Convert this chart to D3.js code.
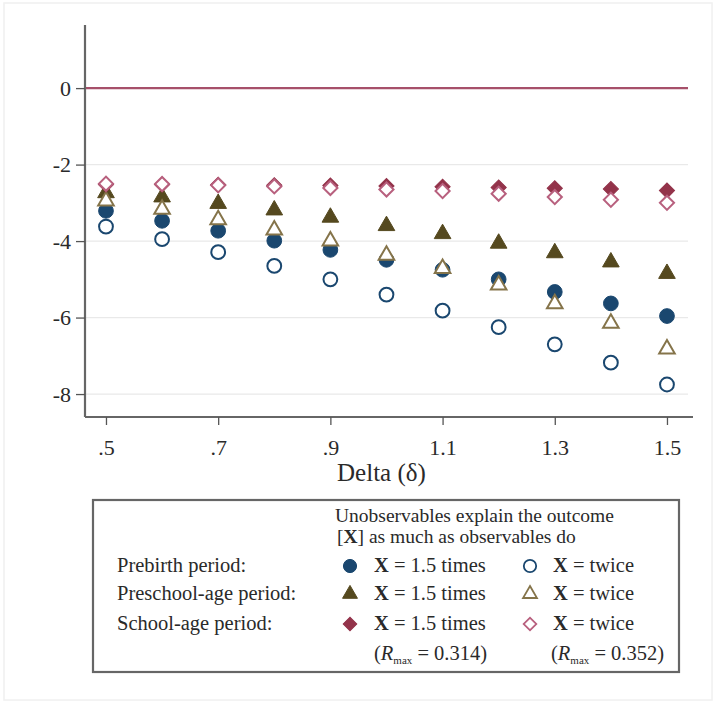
<!DOCTYPE html>
<html><head><meta charset="utf-8">
<script src="https://cdn.jsdelivr.net/npm/d3@7"></script>
<style>
body{margin:0;background:#fff;}
svg{display:block;}
text{font-family:"Liberation Serif","Times New Roman",serif;fill:#2a2a2a;}
</style></head>
<body>
<script>
// ---- data ----
const deltas = [0.5,0.6,0.7,0.8,0.9,1.0,1.1,1.2,1.3,1.4,1.5];
const prebirth15   = [-3.21,-3.47,-3.73,-3.99,-4.23,-4.49,-4.75,-5.00,-5.33,-5.63,-5.96];
const prebirthTwice= [-3.62,-3.95,-4.29,-4.65,-5.00,-5.40,-5.82,-6.25,-6.70,-7.18,-7.75];
const preschool15  = [-2.74,-2.85,-3.02,-3.19,-3.38,-3.60,-3.81,-4.06,-4.31,-4.55,-4.85];
const preschoolTwice=[-2.95,-3.17,-3.44,-3.71,-4.00,-4.37,-4.72,-5.15,-5.64,-6.15,-6.82];
const school15     = [-2.52,-2.52,-2.53,-2.54,-2.55,-2.56,-2.58,-2.60,-2.62,-2.64,-2.68];
const schoolTwice  = [-2.50,-2.51,-2.54,-2.57,-2.61,-2.65,-2.69,-2.76,-2.85,-2.92,-3.00];
const xTicks = [0.5,0.7,0.9,1.1,1.3,1.5];
const xTickLabels = [".5",".7",".9","1.1","1.3","1.5"];
const yTicks = [0,-2,-4,-6,-8];
const yTickLabels = ["0","-2","-4","-6","-8"];
const xTitle = "Delta (δ)";
const rowLabels = ["Prebirth period:","Preschool-age period:","School-age period:"];
const rmaxValues = ["0.314","0.352"];

const W=720,H=704;
const svg=d3.select("body").append("svg").attr("width",W).attr("height",H);
svg.append("rect").attr("width",W).attr("height",H).attr("fill","#fff");
svg.append("rect").attr("x",4).attr("y",3).attr("width",708).attr("height",697)
  .attr("fill","none").attr("stroke","#f0f0f0").attr("stroke-width",1.5);

const x=d3.scaleLinear().domain([0.4626,1.5464]).range([85,693]);
const y=d3.scaleLinear().domain([-8.6,1.65]).range([417,25]);

const cNavy="#1a476f", cOlive="#55491f", cOliveL="#85744a", cMaroon="#93334a", cMaroonL="#b8607e";

// gridlines
svg.append("g").selectAll("line").data(yTicks.filter(d=>d!==0)).join("line")
  .attr("x1",86).attr("x2",688).attr("y1",d=>y(d)).attr("y2",d=>y(d))
  .attr("stroke","#e9e9e9").attr("stroke-width",1.3);

// zero line
svg.append("line").attr("x1",85).attr("x2",688).attr("y1",y(0)).attr("y2",y(0))
  .attr("stroke","#a6506a").attr("stroke-width",2.4);

// axes
const yAxis=d3.axisLeft(y).tickValues(yTicks).tickFormat((d,i)=>yTickLabels[i]).tickSize(9).tickPadding(5);
const gy=svg.append("g").attr("transform","translate(85,0)").call(yAxis);
const xAxis=d3.axisBottom(x).tickValues(xTicks).tickFormat((d,i)=>xTickLabels[i]).tickSize(8).tickPadding(14);
const gx=svg.append("g").attr("transform","translate(0,417)").call(xAxis);
[gx,gy].forEach(g=>{
  g.select(".domain").attr("stroke","#666").attr("stroke-width",2.2);
  g.selectAll(".tick line").attr("stroke","#555").attr("stroke-width",1.3);
  g.selectAll(".tick text").style("font-family","'Liberation Serif',serif").style("font-size","22px").attr("fill","#2a2a2a");
});
gx.select(".domain").attr("d","M85,0H693");
gy.select(".domain").attr("d","M0,25V417");

svg.append("text").attr("x",x(1.0)-5).attr("y",481).attr("text-anchor","middle")
  .style("font-size","25px").text(xTitle);

// markers
const series=[
  {vals:prebirth15, type:d3.symbolCircle, fill:cNavy, stroke:cNavy, size:170},
  {vals:prebirthTwice, type:d3.symbolCircle, fill:"#fff", stroke:cNavy, size:150, open:true},
  {vals:preschool15, type:d3.symbolTriangle, fill:cOlive, stroke:cOlive, size:120},
  {vals:preschoolTwice, type:d3.symbolTriangle, fill:"#fff", stroke:cOliveL, size:105, open:true},
  {vals:school15, type:d3.symbolSquare, fill:cMaroon, stroke:cMaroon, rot:45, size:115},
  {vals:schoolTwice, type:d3.symbolSquare, fill:"#fff", stroke:cMaroonL, rot:45, size:100, open:true}
];
series.forEach(s=>{
  svg.append("g").selectAll("path").data(s.vals).join("path")
    .attr("d",d3.symbol().type(s.type).size(s.size))
    .attr("transform",(d,j)=>`translate(${x(deltas[j])},${y(d)}) rotate(${s.rot||0})`)
    .attr("fill",s.fill).attr("stroke",s.stroke).attr("stroke-width",s.open?2:1);
});

// legend
const FS="20.5px";
const lg=svg.append("g");
lg.append("rect").attr("x",93).attr("y",500).attr("width",586).attr("height",172)
  .attr("fill","#fff").attr("stroke","#666").attr("stroke-width",2.2);
lg.append("text").attr("x",335).attr("y",522).style("font-size","19.5px").text("Unobservables explain the outcome");
const t2=lg.append("text").attr("x",337).attr("y",543).style("font-size","19.5px");
t2.append("tspan").text("[");
t2.append("tspan").attr("font-weight","bold").text("X");
t2.append("tspan").text("] as much as observables do");
const rowY=[572,600,630];
rowLabels.forEach((r,i)=>{
  lg.append("text").attr("x",117).attr("y",rowY[i]).style("font-size",FS).text(r);
});
const legSeries=[[0,1],[2,3],[4,5]];
legSeries.forEach((pair,i)=>{
  pair.forEach((si,k)=>{
    const s=series[si];
    const cx=k===0?350:530;
    lg.append("path").attr("d",d3.symbol().type(s.type).size(s.size*0.8))
      .attr("transform",`translate(${cx},${rowY[i]-6}) rotate(${s.rot||0})`)
      .attr("fill",s.fill).attr("stroke",s.stroke).attr("stroke-width",s.open?1.8:1);
    const t=lg.append("text").attr("x",k===0?374:553).attr("y",rowY[i]).style("font-size",FS);
    t.append("tspan").attr("font-weight","bold").text("X");
    t.append("tspan").text(k===0?" = 1.5 times":" = twice");
  });
});
[374,551].forEach((xx,k)=>{
  const t=lg.append("text").attr("x",xx).attr("y",660).style("font-size",FS);
  t.append("tspan").text("(");
  t.append("tspan").attr("font-style","italic").text("R");
  t.append("tspan").attr("dy",4).style("font-size","11px").text("max");
  t.append("tspan").attr("dy",-4).text(" = "+rmaxValues[k]+")");
});
</script>
</body></html>
